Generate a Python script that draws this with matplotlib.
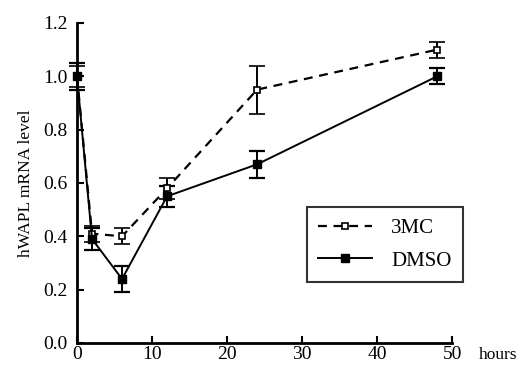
import numpy as np
import matplotlib.pyplot as plt
from matplotlib.lines import Line2D

plt.rcParams['font.family'] = ['Liberation Serif', 'DejaVu Serif']

# time points (hours)
hours = [0, 2, 6, 12, 24, 48]

# 3MC treated
mc_mean = [1.00, 0.41, 0.40, 0.58, 0.95, 1.10]
mc_err = [0.04, 0.03, 0.03, 0.04, 0.09, 0.03]

# DMSO control
dmso_mean = [1.00, 0.39, 0.24, 0.55, 0.67, 1.00]
dmso_err = [0.05, 0.04, 0.05, 0.04, 0.05, 0.03]

fig = plt.figure(figsize=(5.22, 3.70), dpi=100)
ax = fig.add_axes([0.1475, 0.073, 0.719, 0.865])

dash = (0, (4, 3))
ax.errorbar(hours, mc_mean, yerr=mc_err, color='black', ls=dash, lw=1.6,
            marker='s', ms=5, mfc='white', mec='black', mew=1.2,
            capsize=6, capthick=1.6, elinewidth=1.4, clip_on=False)
ax.errorbar(hours, dmso_mean, yerr=dmso_err, color='black', ls='-', lw=1.4,
            marker='s', ms=6, mfc='black', mec='black',
            capsize=6, capthick=1.6, elinewidth=1.4, clip_on=False)

ax.set_xlim(0, 50)
ax.set_ylim(0, 1.2)
ax.set_xticks([0, 10, 20, 30, 40, 50])
ax.set_yticks(np.arange(0, 1.21, 0.2))
ax.set_yticklabels(['%.1f' % v for v in np.arange(0, 1.21, 0.2)])
ax.tick_params(direction='in', length=5, width=1.5, labelsize=14)
ax.tick_params(axis='y', pad=7)
ax.tick_params(axis='x', pad=2)
ax.spines['top'].set_visible(False)
ax.spines['right'].set_visible(False)
ax.spines['left'].set_linewidth(2)
ax.spines['bottom'].set_linewidth(2)

ax.set_ylabel('hWAPL mRNA level', fontsize=12.5, labelpad=6)
ax.annotate('hours', xy=(1, 0), xycoords='axes fraction', xytext=(19, -3),
            textcoords='offset points', fontsize=12.5, ha='left', va='top')

handles = [Line2D([], [], color='black', ls=dash, lw=1.6, marker='s', ms=5,
                  mfc='white', mec='black', mew=1.2),
           Line2D([], [], color='black', ls='-', lw=1.4, marker='s', ms=6,
                  mfc='black', mec='black')]
leg = ax.legend(handles, ['3MC', 'DMSO'], loc='lower right',
                bbox_to_anchor=(463 / 522, 88 / 370), bbox_transform=fig.transFigure,
                borderaxespad=0, fontsize=15, frameon=True, fancybox=False,
                edgecolor='black', handlelength=2.6, handletextpad=0.9,
                borderpad=0.55, labelspacing=0.6)
leg.get_frame().set_linewidth(1.5)

fig.savefig('out.png', dpi=100)
